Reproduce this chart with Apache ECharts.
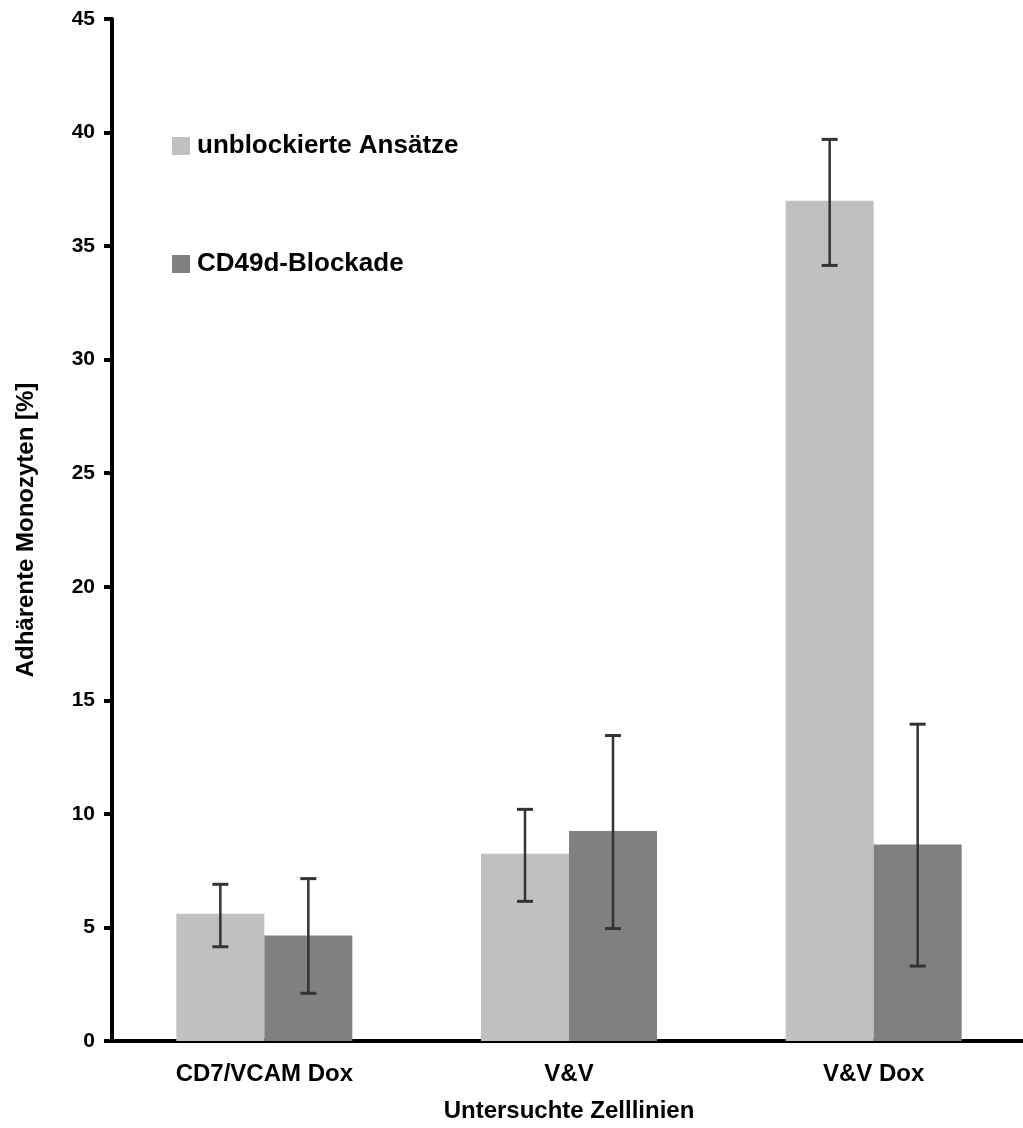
<!DOCTYPE html>
<html>
<head>
<meta charset="utf-8">
<script src="https://cdn.jsdelivr.net/npm/echarts@6/dist/echarts.min.js"></script>
<style>html,body{margin:0;padding:0;background:#fff;overflow:hidden;}#c{width:1030px;height:1128px;}</style>
</head>
<body>
<div id="c"></div>
<script>
const categories = ['CD7/VCAM Dox', 'V&V', 'V&V Dox'];
const seriesNames = ['unblockierte Ansätze', 'CD49d-Blockade'];
const unblockedMean = [5.6, 8.25, 37.0];
const unblockedLow = [4.15, 6.15, 34.15];
const unblockedHigh = [6.9, 10.2, 39.7];
const blockadeMean = [4.65, 9.25, 8.65];
const blockadeLow = [2.1, 4.95, 3.3];
const blockadeHigh = [7.15, 13.45, 13.95];

const FONT = '"Liberation Sans", Arial, sans-serif';
const BAR_W = 88;

function errData(low, high) {
  return categories.map((c, i) => [i, low[i], high[i]]);
}
function errRender(offsetSign) {
  return function (params, api) {
    const x = api.value(0);
    const lo = api.coord([x, api.value(1)]);
    const hi = api.coord([x, api.value(2)]);
    const cx = lo[0] + offsetSign * BAR_W / 2;
    const cap = 8;
    return {
      type: 'group',
      children: [
        { type: 'line', shape: { x1: cx, y1: lo[1], x2: cx, y2: hi[1] }, style: { stroke: '#333333', lineWidth: 2.5 } },
        { type: 'line', shape: { x1: cx - cap, y1: hi[1], x2: cx + cap, y2: hi[1] }, style: { stroke: '#333333', lineWidth: 3 } },
        { type: 'line', shape: { x1: cx - cap, y1: lo[1], x2: cx + cap, y2: lo[1] }, style: { stroke: '#333333', lineWidth: 3 } }
      ]
    };
  };
}

const chart = echarts.init(document.getElementById('c'), null, { renderer: 'canvas' });
chart.setOption({
  animation: false,
  backgroundColor: '#ffffff',
  textStyle: { fontFamily: FONT, fontWeight: 'bold', color: '#000' },
  grid: { left: 112, top: 19, width: 914, height: 1024, containLabel: false },
  legend: {
    orient: 'vertical',
    left: 167, top: 128,
    itemWidth: 18, itemHeight: 18, itemGap: 92,
    icon: 'rect',
    data: seriesNames,
    textStyle: { fontFamily: FONT, fontWeight: 'bold', fontSize: 26, color: '#000', padding: [0, 0, 0, 2] }
  },
  xAxis: {
    type: 'category',
    data: categories,
    name: 'Untersuchte Zelllinien',
    nameLocation: 'middle',
    nameGap: 58,
    nameTextStyle: { fontFamily: FONT, fontWeight: 'bold', fontSize: 24, color: '#000' },
    axisLine: { lineStyle: { color: '#000', width: 4 } },
    axisTick: { show: false },
    axisLabel: { fontFamily: FONT, fontWeight: 'bold', fontSize: 24, color: '#000', margin: 21 },
    splitLine: { show: false }
  },
  yAxis: {
    type: 'value',
    min: 0, max: 45, interval: 5,
    name: 'Adhärente Monozyten [%]',
    nameLocation: 'middle',
    nameGap: 74,
    nameRotate: 90,
    nameTextStyle: { fontFamily: FONT, fontWeight: 'bold', fontSize: 24, color: '#000' },
    axisLine: { show: true, lineStyle: { color: '#000', width: 4 } },
    axisTick: { show: true, inside: false, length: 8, lineStyle: { color: '#000', width: 4 } },
    axisLabel: { fontFamily: FONT, fontWeight: 'bold', fontSize: 21, color: '#000', margin: 17 },
    splitLine: { show: false }
  },
  series: [
    { name: seriesNames[0], type: 'bar', data: unblockedMean, barWidth: BAR_W, barGap: '0%',
      itemStyle: { color: '#c0c0c0' }, z: 2 },
    { name: seriesNames[1], type: 'bar', data: blockadeMean, barWidth: BAR_W, barGap: '0%',
      itemStyle: { color: '#808080' }, z: 2 },
    { type: 'custom', data: errData(unblockedLow, unblockedHigh), renderItem: errRender(-1), z: 5,
      encode: { x: 0, y: [1, 2] }, silent: true },
    { type: 'custom', data: errData(blockadeLow, blockadeHigh), renderItem: errRender(1), z: 5,
      encode: { x: 0, y: [1, 2] }, silent: true }
  ]
});
</script>
</body>
</html>
